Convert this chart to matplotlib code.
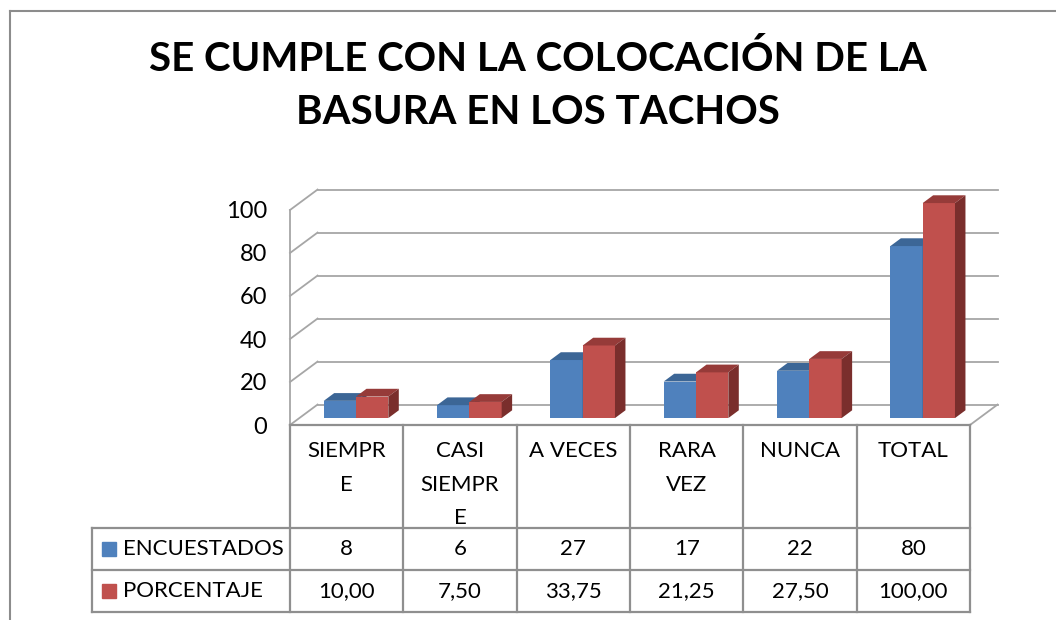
import matplotlib.pyplot as plt
from matplotlib.lines import Line2D
from matplotlib.patches import Polygon

# datos del grafico
header_labels = ["SIEMPR\nE", "CASI\nSIEMPR\nE", "A VECES", "RARA\nVEZ", "NUNCA", "TOTAL"]
encuestados = [8, 6, 27, 17, 22, 80]
porcentaje = [10.00, 7.50, 33.75, 21.25, 27.50, 100.00]
series_names = ["ENCUESTADOS", "PORCENTAJE"]
title = "SE CUMPLE CON LA COLOCACIÓN DE LA\nBASURA EN LOS TACHOS"
yticks = [0, 20, 40, 60, 80, 100]

front = ["#4F81BD", "#C0504D"]
top = ["#3C6696", "#963B39"]
side = ["#2F5079", "#7A2E2C"]
grid_c = "#A6A6A6"
tab_c = "#8F8F8F"

plt.rcParams['font.family'] = ['Lato', 'DejaVu Sans']

W, H = 1056, 620
fig = plt.figure(figsize=(W / 100, H / 100), dpi=100)
# el plano frontal: x 290..970 px, y 425 (0) .. 210 (100)
ax = fig.add_axes([290 / W, (H - 425) / H, 680 / W, 215 / H])
ax.set_xlim(0, 6)
ax.set_ylim(0, 100)
for s in ax.spines.values():
    s.set_visible(False)
ax.set_xticks([])
ax.set_yticks(yticks)
ax.tick_params(axis='y', length=0, pad=16.5, labelsize=17)

n = len(header_labels)
Dx, Dy = 0.243, 9.5  # profundidad total (unidades de datos)

# paredes / lineas de division
for v in yticks:
    ax.plot([Dx, n + Dx], [v + Dy, v + Dy], color=grid_c, lw=1.3, clip_on=False, zorder=1)
    ax.plot([0, Dx], [v, v + Dy], color=grid_c, lw=1.3, clip_on=False, zorder=1)
ax.plot([n, n + Dx], [0, Dy], color=grid_c, lw=1.3, clip_on=False, zorder=1)

# barras 3d
f0, fd = 0.34, 0.38
bw = 0.285
for i in range(n):
    for k, vals in enumerate([encuestados, porcentaje]):
        h = vals[i]
        x0 = i + 0.5 - bw + k * bw + f0 * Dx
        x1 = x0 + bw
        b = f0 * Dy
        ddx, ddy = fd * Dx, fd * Dy
        ax.add_patch(Polygon([(x0, b), (x1, b), (x1, b + h), (x0, b + h)],
                             closed=True, fc=front[k], ec='none', zorder=3, clip_on=False))
        ax.add_patch(Polygon([(x0, b + h), (x1, b + h), (x1 + ddx, b + h + ddy), (x0 + ddx, b + h + ddy)],
                             closed=True, fc=top[k], ec='none', zorder=3, clip_on=False))
        ax.add_patch(Polygon([(x1, b), (x1, b + h), (x1 + ddx, b + h + ddy), (x1 + ddx, b + ddy)],
                             closed=True, fc=side[k], ec='none', zorder=3, clip_on=False))

# tabla de datos
px = 100 / 215  # unidades por pixel en y
r0 = 0
r1 = -(528 - 425) * px
r2 = -(570 - 425) * px
r3 = -(612 - 425) * px
xl = (92 - 290) / (680 / 6)
lk = dict(color=tab_c, lw=1.6, clip_on=False, zorder=4)
ax.plot([0, n], [r0, r0], **lk)
for y in [r1, r2, r3]:
    ax.plot([xl, n], [y, y], **lk)
for i in range(n + 1):
    ax.plot([i, i], [r3, r0], **lk)
ax.plot([0, 0], [0, 100], color=grid_c, lw=1.3, clip_on=False, zorder=1)
ax.plot([xl, xl], [r3, r1], **lk)

fs = 16
for i, lab in enumerate(header_labels):
    ax.text(i + 0.5, -(441 - 425) * px, lab, ha='center', va='top', fontsize=fs,
            linespacing=1.85, clip_on=False)
    ax.text(i + 0.5, (r1 + r2) / 2, f"{encuestados[i]}", ha='center', va='center',
            fontsize=fs, clip_on=False)
    ax.text(i + 0.5, (r2 + r3) / 2, f"{porcentaje[i]:.2f}".replace('.', ','),
            ha='center', va='center', fontsize=fs, clip_on=False)

for k, name in enumerate(series_names):
    yc = (r1 + r2) / 2 if k == 0 else (r2 + r3) / 2
    ax.plot([(108.5 - 290) / (680 / 6)], [yc], marker='s', ms=10.5, color=front[k],
            ls='none', clip_on=False)
    ax.text((123 - 290) / (680 / 6), yc, name, ha='left', va='center', fontsize=fs,
            clip_on=False)

# titulo
fig.text(538 / W, 1 - 40 / H, title, ha='center', va='top', fontsize=29,
         fontweight='bold', linespacing=1.54)

# borde del area del grafico
fig.add_artist(Line2D([9.5 / W, 9.5 / W], [0, 1 - 11 / H], color='#8C8C8C', lw=1.5))
fig.add_artist(Line2D([9.5 / W, 1], [1 - 11 / H, 1 - 11 / H], color='#8C8C8C', lw=1.5))

fig.savefig("out.png", dpi=100)
